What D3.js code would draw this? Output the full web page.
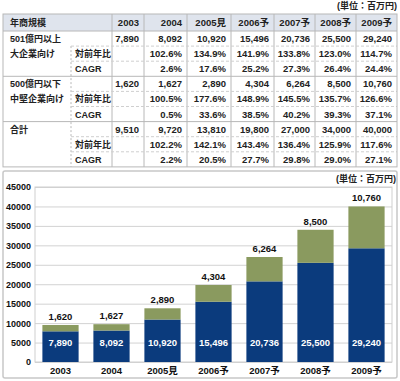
<!DOCTYPE html>
<html>
<head>
<meta charset="utf-8">
<script src="https://cdn.jsdelivr.net/npm/d3@7"></script>
<style>
	body { margin: 0; background: #fff; }
	svg text { font-family: "Liberation Sans", "Noto Sans CJK JP", sans-serif; font-weight: bold; }
</style>
</head>
<body>
<div class="chart"></div>
<script>
// data
var years = ["2003", "2004", "2005見", "2006予", "2007予", "2008予", "2009予"];
var large = [7890, 8092, 10920, 15496, 20736, 25500, 29240];
var largeYoY = [null, 102.6, 134.9, 141.9, 133.8, 123.0, 114.7];
var largeCagr = [null, 2.6, 17.6, 25.2, 27.3, 26.4, 24.4];
var mid = [1620, 1627, 2890, 4304, 6264, 8500, 10760];
var midYoY = [null, 100.5, 177.6, 148.9, 145.5, 135.7, 126.6];
var midCagr = [null, 0.5, 33.6, 38.5, 40.2, 39.3, 37.1];
var total = [9510, 9720, 13810, 19800, 27000, 34000, 40000];
var totalYoY = [null, 102.2, 142.1, 143.4, 136.4, 125.9, 117.6];
var totalCagr = [null, 2.2, 20.5, 27.7, 29.8, 29.0, 27.1];
var yTicks = [0, 5000, 10000, 15000, 20000, 25000, 30000, 35000, 40000, 45000];
var unitLabel = "(単位：百万円)";

var navy = "#0b3b7d", olive = "#8a9a5f", lineGray = "#b8b8b8";

var fmtNum = d3.format(",");
var fmtPct = function(v){ return v == null ? "" : v.toFixed(1) + "%"; };

var svg = d3.select(".chart").append("svg")
	.attr("width", 400)
	.attr("height", 381);

//////////////
//table part//
//////////////

var drawTable = function(){
	// column edges: label, sublabel, then one per year
	var colX = [3, 71, 112, 144, 187, 231, 274, 315, 356, 397],
		headTop = 14, headH = 17, rowH = 15.1,
		tableRows = [
			{label: "501億円以上", sub: "", vals: large.map(fmtNum)},
			{label: "大企業向け", sub: "対前年比", vals: largeYoY.map(fmtPct)},
			{label: "", sub: "CAGR", vals: largeCagr.map(fmtPct)},
			{label: "500億円以下", sub: "", vals: mid.map(fmtNum)},
			{label: "中堅企業向け", sub: "対前年比", vals: midYoY.map(fmtPct)},
			{label: "", sub: "CAGR", vals: midCagr.map(fmtPct)},
			{label: "合計", sub: "", vals: total.map(fmtNum)},
			{label: "", sub: "対前年比", vals: totalYoY.map(fmtPct)},
			{label: "", sub: "CAGR", vals: totalCagr.map(fmtPct)}
		];

	var bottom = headTop + headH + rowH * tableRows.length;
	var t = svg.append("g").attr("class", "table");

	//unit note
	t.append("text")
		.attr("x", 397).attr("y", 9)
		.attr("text-anchor", "end")
		.style("font-size", "9px")
		.attr("fill", "#222")
		.text(unitLabel);

	//header background
	t.append("rect")
		.attr("x", colX[0]).attr("y", headTop)
		.attr("width", colX[9] - colX[0]).attr("height", headH)
		.attr("fill", "#dfe4ed");

	//vertical lines between year columns
	for (var c = 2; c < 9; c++){
		t.append("line")
			.attr("x1", colX[c]).attr("x2", colX[c])
			.attr("y1", headTop).attr("y2", bottom)
			.attr("stroke", lineGray);
	};

	//dashed line between label and sublabel
	t.append("line")
		.attr("x1", colX[1]).attr("x2", colX[1])
		.attr("y1", headTop + headH + rowH).attr("y2", bottom)
		.attr("stroke", lineGray)
		.attr("stroke-dasharray", "2,2");

	//horizontal lines: solid between groups, dashed inside
	tableRows.forEach(function(r, i){
		var y = headTop + headH + rowH * (i + 1);
		if (i == tableRows.length - 1) return;
		var solid = (i % 3 == 2);
		t.append("line")
			.attr("x1", solid ? colX[0] : colX[1]).attr("x2", colX[9])
			.attr("y1", y).attr("y2", y)
			.attr("stroke", solid ? lineGray : "#cfcfcf")
			.attr("stroke-dasharray", solid ? null : "3,2");
	});

	//header line and outer frame
	t.append("line")
		.attr("x1", colX[0]).attr("x2", colX[9])
		.attr("y1", headTop + headH).attr("y2", headTop + headH)
		.attr("stroke", lineGray);
	t.append("rect")
		.attr("x", colX[0]).attr("y", headTop)
		.attr("width", colX[9] - colX[0]).attr("height", bottom - headTop)
		.attr("fill", "none")
		.attr("stroke", lineGray);

	//header texts
	t.append("text")
		.attr("x", 10).attr("y", headTop + headH / 2 + 3.5)
		.style("font-size", "9px")
		.attr("fill", "#222")
		.text("年商規模");
	years.forEach(function(yr, i){
		t.append("text")
			.attr("x", colX[i + 3] - 5).attr("y", headTop + headH / 2 + 3.5)
			.attr("text-anchor", "end")
			.style("font-size", "9.5px")
			.attr("fill", "#222")
			.text(yr);
	});

	//body texts (japanese labels a touch smaller so they fit)
	tableRows.forEach(function(r, i){
		var y = headTop + headH + rowH * i + rowH / 2 + 3.5;
		t.append("text").attr("x", 10).attr("y", y)
			.style("font-size", "9px").attr("fill", "#222")
			.text(r.label);
		t.append("text").attr("x", 75).attr("y", y)
			.style("font-size", "9px").attr("fill", "#222")
			.text(r.sub);
		r.vals.forEach(function(v, j){
			t.append("text")
				.attr("x", colX[j + 3] - 5).attr("y", y)
				.attr("text-anchor", "end")
				.style("font-size", "9.5px")
				.attr("fill", "#222")
				.text(v);
		});
	});
};

//////////////
//chart part//
//////////////

var drawChart = function(){
	var box = {x: 3, y: 171, w: 394, h: 207},
		plot = {left: 35, right: 392, top: 187, bottom: 362};

	var c = svg.append("g").attr("class", "barchart");

	//outer frame
	c.append("rect")
		.attr("x", box.x).attr("y", box.y)
		.attr("width", box.w).attr("height", box.h)
		.attr("rx", 2)
		.attr("fill", "#fff")
		.attr("stroke", "#c8c8c8")
		.attr("stroke-width", 1.5);

	c.append("text")
		.attr("x", 396).attr("y", 182)
		.attr("text-anchor", "end")
		.style("font-size", "9px")
		.attr("fill", "#222")
		.text(unitLabel);

	var x = d3.scaleBand()
		.domain(years)
		.range([plot.left, plot.right])
		.paddingInner(0.29)
		.paddingOuter(0.145);

	var y = d3.scaleLinear()
		.domain([0, 45000])
		.range([plot.bottom, plot.top]);

	//gridlines via axis
	var yAxis = d3.axisLeft(y)
		.tickValues(yTicks)
		.tickFormat(d3.format("d"))
		.tickSize(-(plot.right - plot.left))
		.tickPadding(4);

	var ga = c.append("g")
		.attr("transform", "translate(" + plot.left + ",0)")
		.call(yAxis);
	ga.select(".domain").remove();
	ga.selectAll(".tick line").attr("stroke", "#d2d2d2");
	ga.selectAll(".tick text")
		.attr("fill", "#111")
		.style("font-size", "9px");

	//plot side borders
	c.append("rect")
		.attr("x", plot.left).attr("y", plot.top)
		.attr("width", plot.right - plot.left).attr("height", plot.bottom - plot.top)
		.attr("fill", "none")
		.attr("stroke", "#cfcfcf");

	//stacked bars
	var bars = c.append("g").selectAll("g.bar")
		.data(years)
		.enter().append("g")
		.attr("class", "bar");

	bars.append("rect")
		.attr("x", function(d){ return x(d); })
		.attr("width", x.bandwidth())
		.attr("y", function(d, i){ return y(large[i]); })
		.attr("height", function(d, i){ return y(0) - y(large[i]); })
		.attr("fill", navy);

	bars.append("rect")
		.attr("x", function(d){ return x(d); })
		.attr("width", x.bandwidth())
		.attr("y", function(d, i){ return y(large[i] + mid[i]); })
		.attr("height", function(d, i){ return y(large[i]) - y(large[i] + mid[i]); })
		.attr("fill", olive);

	//value inside the navy part, sits near the bottom
	bars.append("text")
		.attr("x", function(d){ return x(d) + x.bandwidth() / 2; })
		.attr("y", y(5000) + 3.5)
		.attr("text-anchor", "middle")
		.style("font-size", "9.5px")
		.attr("fill", "#fff")
		.text(function(d, i){ return fmtNum(large[i]); });

	//value on top
	bars.append("text")
		.attr("x", function(d){ return x(d) + x.bandwidth() / 2; })
		.attr("y", function(d, i){ return y(large[i] + mid[i]) - 5; })
		.attr("text-anchor", "middle")
		.style("font-size", "9.5px")
		.attr("fill", "#111")
		.text(function(d, i){ return fmtNum(mid[i]); });

	//x labels
	var xAxis = d3.axisBottom(x).tickSize(0).tickPadding(5);
	var gx = c.append("g")
		.attr("transform", "translate(0," + plot.bottom + ")")
		.call(xAxis);
	gx.select(".domain").remove();
	gx.selectAll(".tick text")
		.attr("fill", "#111")
		.style("font-size", "9.5px");
};

drawTable();
drawChart();
</script>
</body>
</html>
